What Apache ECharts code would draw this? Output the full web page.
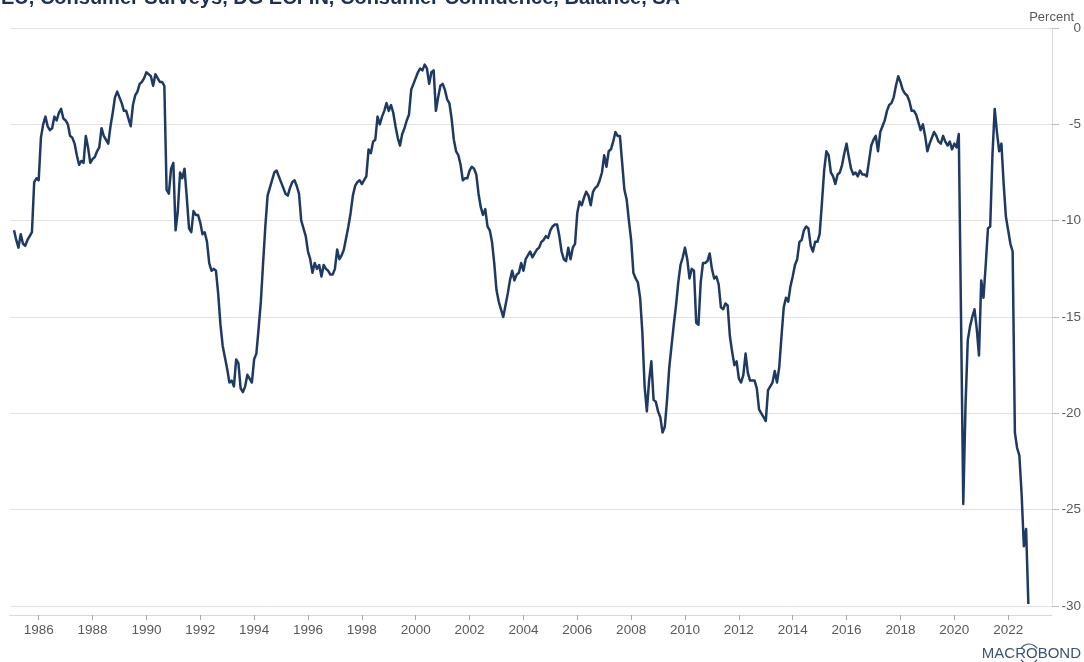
<!DOCTYPE html>
<html>
<head>
<meta charset="utf-8">
<script src="https://cdn.jsdelivr.net/npm/echarts@6/dist/echarts.min.js"></script>
<style>
html,body{margin:0;padding:0;background:#ffffff;}
#chart{width:1084px;height:662px;}
</style>
</head>
<body>
<div id="chart"></div>
<script>
// ---- Data: monthly balance (%), one array per year, Jan..Dec ----
const firstYear = 1985;
const v1985 = [-10.5, -11.0, -11.4, -10.7, -11.2, -11.3, -11.0, -10.8, -10.6, -8.0, -7.8, -7.9];
const v1986 = [-5.7, -5.0, -4.6, -5.1, -5.3, -5.2, -4.6, -4.8, -4.4, -4.2, -4.7, -4.8];
const v1987 = [-5.0, -5.6, -5.7, -6.0, -6.6, -7.1, -6.9, -7.0, -5.6, -6.2, -7.0, -6.8];
const v1988 = [-6.7, -6.4, -6.2, -5.2, -5.6, -5.8, -6.0, -5.1, -4.4, -3.6, -3.3, -3.6];
const v1989 = [-3.9, -4.3, -4.3, -4.7, -5.1, -4.0, -3.5, -3.3, -2.9, -2.8, -2.6, -2.3];
const v1990 = [-2.4, -2.5, -3.0, -2.4, -2.6, -2.8, -2.8, -3.0, -8.4, -8.6, -7.3, -7.0];
const v1991 = [-10.5, -9.5, -7.5, -7.8, -7.3, -8.8, -10.4, -10.6, -9.5, -9.7, -9.7, -10.1];
const v1992 = [-10.7, -10.6, -11.1, -12.2, -12.6, -12.5, -12.6, -13.8, -15.4, -16.5, -17.1, -17.7];
const v1993 = [-18.4, -18.3, -18.6, -17.2, -17.4, -18.7, -18.9, -18.6, -18.0, -18.2, -18.4, -17.2];
const v1994 = [-16.9, -15.6, -14.2, -12.2, -10.3, -8.7, -8.3, -7.9, -7.5, -7.4, -7.7, -8.0];
const v1995 = [-8.3, -8.6, -8.7, -8.3, -8.0, -7.9, -8.2, -8.6, -10.0, -10.4, -10.8, -11.6];
const v1996 = [-12.0, -12.7, -12.2, -12.5, -12.3, -12.9, -12.3, -12.5, -12.6, -12.8, -12.8, -12.5];
const v1997 = [-11.5, -12.0, -11.8, -11.5, -10.9, -10.3, -9.6, -8.7, -8.2, -8.0, -7.9, -8.1];
const v1998 = [-7.9, -7.7, -6.3, -6.5, -5.9, -5.8, -4.6, -5.0, -4.6, -4.3, -3.9, -4.3];
const v1999 = [-4.0, -4.4, -5.1, -5.7, -6.1, -5.5, -5.2, -4.8, -4.5, -3.2, -2.9, -2.6];
const v2000 = [-2.3, -2.1, -2.2, -1.9, -2.1, -2.9, -2.3, -2.2, -4.3, -3.6, -3.0, -2.9];
const v2001 = [-3.2, -3.7, -3.9, -4.7, -5.8, -6.4, -6.6, -7.1, -7.9, -7.8, -7.8, -7.4];
const v2002 = [-7.2, -7.3, -7.6, -8.6, -9.3, -9.7, -9.4, -10.3, -10.5, -11.1, -12.2, -13.6];
const v2003 = [-14.2, -14.6, -15.0, -14.4, -13.8, -13.1, -12.6, -13.1, -12.8, -12.7, -12.2, -12.6];
const v2004 = [-12.0, -11.8, -11.6, -11.9, -11.7, -11.5, -11.4, -11.1, -11.0, -10.8, -10.9, -10.5];
const v2005 = [-10.3, -10.2, -10.2, -10.8, -11.6, -12.0, -12.1, -11.4, -12.0, -11.4, -11.2, -9.6];
const v2006 = [-9.0, -9.2, -8.8, -8.5, -8.7, -9.2, -8.5, -8.3, -8.2, -7.9, -7.5, -6.6];
const v2007 = [-7.2, -6.4, -6.3, -5.9, -5.4, -5.6, -5.6, -7.0, -8.4, -8.9, -10.0, -11.0];
const v2008 = [-12.7, -13.0, -13.2, -14.0, -15.8, -18.6, -19.9, -18.3, -17.3, -19.3, -19.4, -19.9];
const v2009 = [-20.2, -21.0, -20.7, -19.3, -17.6, -16.5, -15.4, -14.4, -13.2, -12.3, -11.9, -11.4];
const v2010 = [-12.0, -13.0, -12.5, -12.6, -15.3, -15.4, -13.2, -12.2, -12.2, -12.1, -11.7, -12.5];
const v2011 = [-13.0, -12.9, -13.3, -14.5, -14.6, -14.3, -14.4, -16.0, -16.8, -17.5, -17.3, -18.2];
const v2012 = [-18.4, -18.0, -16.9, -17.9, -18.3, -18.3, -18.3, -18.7, -19.8, -20.0, -20.2, -20.4];
const v2013 = [-18.8, -18.6, -18.4, -17.8, -18.4, -17.6, -16.0, -14.5, -14.0, -14.2, -13.4, -12.9];
const v2014 = [-12.3, -12.0, -11.1, -11.0, -10.5, -10.3, -10.4, -11.3, -11.6, -11.1, -11.1, -10.7];
const v2015 = [-9.1, -7.4, -6.4, -6.6, -7.5, -7.7, -8.1, -7.6, -7.5, -7.1, -6.5, -6.0];
const v2016 = [-6.7, -7.3, -7.6, -7.5, -7.7, -7.4, -7.6, -7.6, -7.7, -6.9, -6.1, -5.8];
const v2017 = [-5.6, -6.4, -5.4, -5.1, -4.8, -4.3, -4.0, -3.9, -3.6, -3.0, -2.5, -2.8];
const v2018 = [-3.2, -3.4, -3.5, -3.8, -4.3, -4.3, -4.5, -4.9, -5.3, -5.0, -5.6, -6.4];
const v2019 = [-6.0, -5.7, -5.4, -5.6, -5.9, -6.0, -5.6, -5.9, -6.1, -5.9, -6.3, -6.0];
const v2020 = [-6.2, -5.5, -15.0, -24.7, -19.6, -16.2, -15.5, -15.0, -14.6, -15.6, -17.0, -13.1];
const v2021 = [-14.0, -12.3, -10.4, -10.3, -6.6, -4.2, -5.4, -6.4, -6.0, -8.1, -9.8, -10.5];
const v2022 = [-11.2, -11.6, -21.0, -21.8, -22.2, -24.2, -26.9, -26.0, -29.9];

const yearTickLabels = [1986,1988,1990,1992,1994,1996,1998,2000,2002,2004,2006,2008,2010,2012,2014,2016,2018,2020,2022];
const valueTicks = [0, -5, -10, -15, -20, -25, -30];

const titleText = 'EU, Consumer Surveys, DG ECFIN, Consumer Confidence, Balance, SA';
const unitText = 'Percent';
const brandText = 'MACROBOND';

// ---- Build series (monthly points plotted at month end) ----
const years = [v1985,v1986,v1987,v1988,v1989,v1990,v1991,v1992,v1993,v1994,v1995,v1996,v1997,v1998,v1999,
  v2000,v2001,v2002,v2003,v2004,v2005,v2006,v2007,v2008,v2009,v2010,v2011,v2012,v2013,v2014,v2015,v2016,
  v2017,v2018,v2019,v2020,v2021,v2022];
const seriesData = [];
years.forEach((arr, yi) => {
  arr.forEach((v, m) => {
    seriesData.push([firstYear + yi + (m + 1) / 12, v]);
  });
});

const FONT = '"Liberation Sans", Arial, Helvetica, sans-serif';
const chart = echarts.init(document.getElementById('chart'), null, {renderer: 'canvas'});
chart.setOption({
  animation: false,
  backgroundColor: '#ffffff',
  textStyle: {fontFamily: FONT},
  grid: {left: 10, right: 32, top: 28, bottom: 56, containLabel: false},
  xAxis: {
    type: 'value',
    min: 1984.935,
    max: 2023.628,
    position: 'bottom',
    offset: 9,
    axisLine: {show: true, onZero: false, lineStyle: {color: '#d9d9d9', width: 1}},
    axisTick: {show: true, length: 5, lineStyle: {color: '#a8a8a8'}, customValues: yearTickLabels},
    axisLabel: {
      show: true, customValues: yearTickLabels, margin: 8, fontSize: 13.5, color: '#595959', fontFamily: FONT,
      formatter: v => String(Math.round(v))
    },
    splitLine: {show: false}
  },
  yAxis: {
    type: 'value',
    position: 'right',
    min: -30,
    max: 0,
    interval: 5,
    axisLine: {show: true, onZero: false, lineStyle: {color: '#dadada', width: 1}},
    axisTick: {show: true, length: 7, lineStyle: {color: '#bdbdbd'}},
    axisLabel: {show: true, margin: 29, align: 'right', fontSize: 13.5, color: '#595959', fontFamily: FONT},
    splitLine: {show: true, lineStyle: {color: '#e2e2e2', width: 1}}
  },
  series: [{
    type: 'line',
    data: seriesData,
    showSymbol: false,
    symbol: 'none',
    smooth: false,
    lineStyle: {color: '#1e3a62', width: 2.5, join: 'round'},
    z: 3
  }],
  graphic: [
    {type: 'text', x: 1, y: -2, silent: true,
     style: {text: titleText, fontSize: 20, fontWeight: 'bold', fontFamily: FONT, fill: '#1b3059', align: 'left', verticalAlign: 'middle'}},
    {type: 'text', x: 1074, y: 17, silent: true,
     style: {text: unitText, fontSize: 13, fontFamily: FONT, fill: '#595959', align: 'right', verticalAlign: 'middle'}},
    {type: 'text', x: 1081, y: 654, silent: true,
     style: {text: brandText, fontSize: 15, fontFamily: FONT, fill: '#3d5575', align: 'right', verticalAlign: 'middle'}},
    {type: 'arc', silent: true,
     shape: {cx: 1029, cy: 653.5, r: 9.5, startAngle: Math.PI * 1.18, endAngle: Math.PI * 1.82},
     style: {stroke: '#3d5575', fill: null, lineWidth: 1.2}},
    {type: 'arc', silent: true,
     shape: {cx: 1029, cy: 654.5, r: 9.5, startAngle: Math.PI * 0.18, endAngle: Math.PI * 0.82},
     style: {stroke: '#3d5575', fill: null, lineWidth: 1.2}}
  ]
});
</script>
</body>
</html>
